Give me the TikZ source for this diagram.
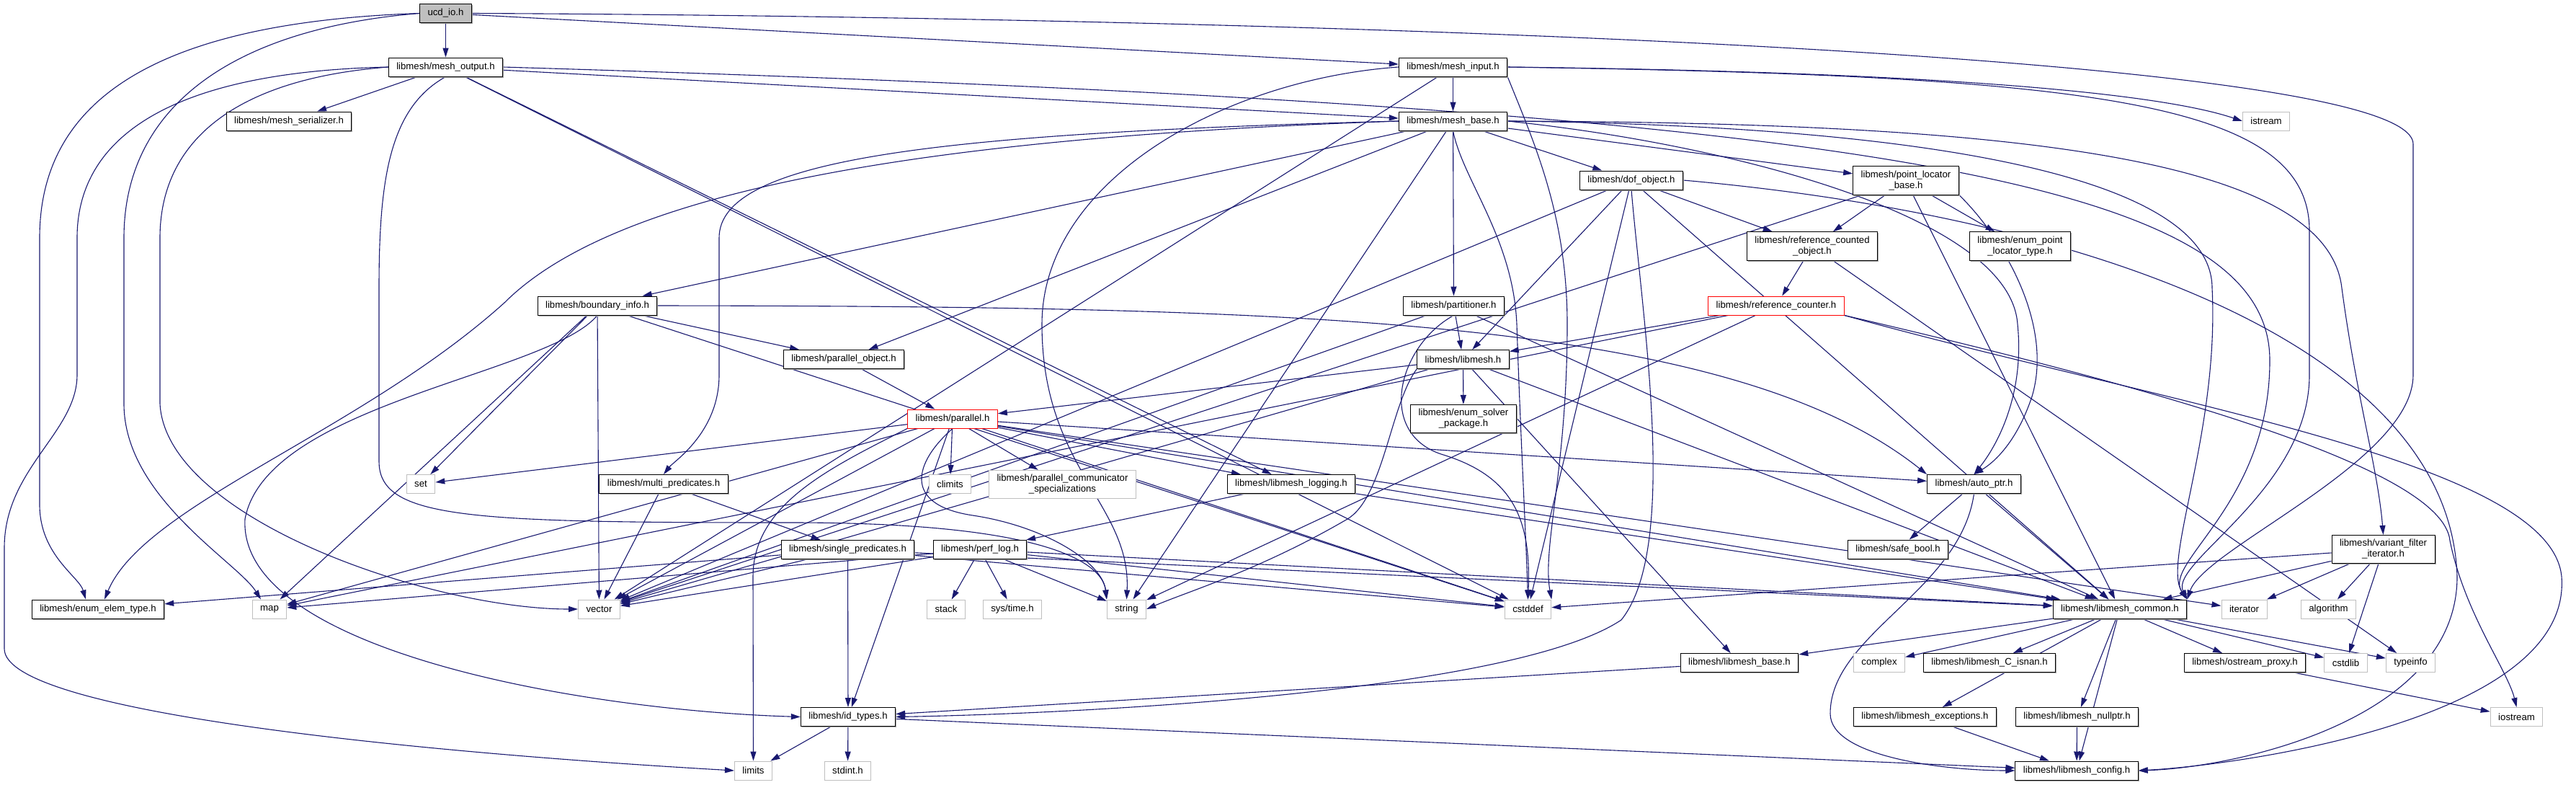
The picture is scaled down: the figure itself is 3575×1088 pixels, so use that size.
\documentclass[tikz,border=0pt]{standalone}
\usepackage{fontspec}
\setmainfont{Liberation Sans}
\usepackage{tikz}
\usetikzlibrary{arrows.meta,shadows}
\definecolor{edgeblue}{HTML}{191970}
\definecolor{sysgray}{HTML}{BFBFBF}
\definecolor{rootgray}{HTML}{BFBFBF}
\pgfdeclarelayer{wires}
\pgfsetlayers{wires,main}

\begin{document}
\begin{tikzpicture}[x=1pt,y=-1pt,
  hbox/.style={fill=white,font=\fontsize{13.2}{15}\selectfont,inner xsep=11pt,inner ysep=6pt,
    minimum height=26pt,align=center,line width=1pt},
  doc/.style={hbox,draw=black,drop shadow={shadow xshift=1.5pt,shadow yshift=-1.5pt,fill=gray!70,opacity=1}},
  sys/.style={hbox,draw=sysgray},
  trunc/.style={hbox,draw=red},
  root/.style={doc,fill=rootgray},
  dep/.style={draw=edgeblue,line width=1.1pt,-{Triangle[length=13pt,width=8pt]}},
  every edge/.style={dep}]
  \useasboundingbox (0,0) rectangle (3575,1088);

  % rows from top to bottom
  \node[root] (ucd) at (618.5,18.5) {ucd\_io.h};
  \node[doc] (output) at (618.5,93) {libmesh/mesh\_output.h};
  \node[doc] (input) at (2016.5,93) {libmesh/mesh\_input.h};
  \node[doc] (serializer) at (401,168) {libmesh/mesh\_serializer.h};
  \node[doc] (base) at (2016.5,168) {libmesh/mesh\_base.h};
  \node[sys] (istreamA) at (3145,168) {istream};
  \node[doc] (dof) at (2264,250) {libmesh/dof\_object.h};
  \node[doc] (plb) at (2645,250.5) {libmesh/point\_locator\\\_base.h};
  \node[doc] (rco) at (2515,341.5) {libmesh/reference\_counted\\\_object.h};
  \node[doc] (eplt) at (2803.5,341.5) {libmesh/enum\_point\\\_locator\_type.h};
  \node[doc] (boundary) at (829,424) {libmesh/boundary\_info.h};
  \node[doc] (partitioner) at (2017.5,424) {libmesh/partitioner.h};
  \node[trunc] (refcounter) at (2465,424) {libmesh/reference\_counter.h};
  \node[doc] (parobj) at (1171,498.5) {libmesh/parallel\_object.h};
  \node[doc] (libmeshh) at (2030.5,498.5) {libmesh/libmesh.h};
  \node[trunc] (parallel) at (1322,581) {libmesh/parallel.h};
  \node[doc] (solver) at (2031,581) {libmesh/enum\_solver\\\_package.h};
  \node[sys] (set) at (584,671.5) {set};
  \node[doc] (multi) at (921,671.5) {libmesh/multi\_predicates.h};
  \node[sys] (climits) at (1318.5,671.5) {climits};
  \node[sys] (commspec) at (1474.5,672) {libmesh/parallel\_communicator\\\_specializations};
  \node[doc] (logging) at (1792,671.5) {libmesh/libmesh\_logging.h};
  \node[doc] (autoptr) at (2739.5,671.5) {libmesh/auto\_ptr.h};
  \node[doc] (single) at (1176.5,762.5) {libmesh/single\_predicates.h};
  \node[doc] (perflog) at (1360,762.5) {libmesh/perf\_log.h};
  \node[doc] (safebool) at (2634,762) {libmesh/safe\_bool.h};
  \node[doc] (variant) at (3307.5,762) {libmesh/variant\_filter\\\_iterator.h};
  \node[doc] (enumelem) at (136,845) {libmesh/enum\_elem\_type.h};
  \node[sys] (map) at (374,845) {map};
  \node[sys] (vector) at (831.5,845) {vector};
  \node[sys] (stack) at (1313,845) {stack};
  \node[sys] (systime) at (1405,845) {sys/time.h};
  \node[sys] (string) at (1563.5,845) {string};
  \node[sys] (cstddef) at (2120.5,845) {cstddef};
  \node[doc] (common) at (2942,845) {libmesh/libmesh\_common.h};
  \node[sys] (iterator) at (3114.5,845) {iterator};
  \node[sys] (algorithm) at (3231.5,845) {algorithm};
  \node[doc] (lmbase) at (2414,919.5) {libmesh/libmesh\_base.h};
  \node[sys] (complex) at (2608,919.5) {complex};
  \node[doc] (isnan) at (2761,919.5) {libmesh/libmesh\_C\_isnan.h};
  \node[doc] (ostream) at (3115.5,919.5) {libmesh/ostream\_proxy.h};
  \node[sys] (cstdlib) at (3255.5,919.5) {cstdlib};
  \node[sys] (typeinfo) at (3345.5,919.5) {typeinfo};
  \node[doc] (idtypes) at (1177,994.5) {libmesh/id\_types.h};
  \node[doc] (exceptions) at (2671.5,994.5) {libmesh/libmesh\_exceptions.h};
  \node[doc] (nullptr) at (2882.5,994.5) {libmesh/libmesh\_nullptr.h};
  \node[sys] (iostreamB) at (3492.5,994.5) {iostream};
  \node[sys] (limits) at (1045.5,1069) {limits};
  \node[sys] (stdint) at (1176.5,1069) {stdint.h};
  \node[doc] (config) at (2882,1069) {libmesh/libmesh\_config.h};

  \begin{pgfonlayer}{wires}
  \fill[white] (0,0) rectangle (3575,1088);
  % long routed includes
  \draw[dep] (ucd.west) .. controls (250,30) and (55,120) .. (55,330) -- (55,700)
    .. controls (55,770) and (110,800) .. ([xshift=-17pt]enumelem.north);
  \draw[dep] (ucd.west) .. controls (320,40) and (172,150) .. (172,330) -- (172,560)
    .. controls (172,690) and (330,780) .. ([xshift=-12pt]map.north);
  \draw[dep] (ucd.east) .. controls (1500,22) and (3349,60) .. (3349,200) -- (3349,520)
    .. controls (3349,640) and (3060,760) .. (common.north east);
  \draw[dep] (output.west) .. controls (220,100) and (107,200) .. (107,330) -- (107,520)
    .. controls (107,600) and (6,650) .. (6,760) -- (6,900)
    .. controls (6,990) and (600,1045) .. (limits.west);
  \draw[dep] (output.west) .. controls (320,110) and (222,200) .. (222,330) -- (222,560)
    .. controls (230,720) and (600,845) .. (vector.west);
  \draw[dep] (output.south) .. controls (540,150) and (526,250) .. (526,400) -- (526,640)
    .. controls (526,720) and (650,725) .. (1100,725) .. controls (1450,725) and (1530,780) .. (string.north west);
  \draw[dep] (output.east) .. controls (2600,150) and (3150,250) .. (3150,500)
    .. controls (3150,700) and (3000,780) .. (common.north east);
  \draw[dep] (input.east) .. controls (2700,100) and (3000,130) .. (istreamA.west);
  \draw[dep] (input.east) .. controls (2900,105) and (3205,140) .. (3205,320) -- (3205,520)
    .. controls (3205,680) and (3010,780) .. (common.north east);
  \draw[dep] (input.west) .. controls (1700,110) and (1446,250) .. (1446,450)
    .. controls (1446,650) and (1570,700) .. (string.north);
  \draw[dep] (input.south east) .. controls (2130,200) and (2175,300) .. (2175,450)
    .. controls (2175,650) and (2140,760) .. (cstddef.north east);
  \draw[dep] (base.south) .. controls (2030,250) and (2100,330) .. (2105,450)
    .. controls (2110,600) and (2118,750) .. (cstddef.north);
  \draw[dep] (base.west) .. controls (1300,190) and (860,260) .. (700,420)
    .. controls (500,600) and (200,700) .. ([xshift=9pt]enumelem.north);
  \draw[dep] (base.west) .. controls (1300,185) and (998,220) .. (998,330) -- (998,520)
    .. controls (998,600) and (935,640) .. (multi.north);
  \draw[dep] (base.east) .. controls (2700,175) and (3070,250) .. (3070,400)
    .. controls (3080,600) and (3000,780) .. (common.north east);
  \draw[dep] (base.east) .. controls (2800,170) and (3230,220) .. (3250,400)
    .. controls (3270,550) and (3300,650) .. (variant.north);
  \draw[dep] (base.east) .. controls (2400,200) and (2790,300) .. (2800,450)
    .. controls (2810,550) and (2770,620) .. (autoptr.north);
  \draw[dep] (plb.south east) .. controls (2780,330) and (2850,450) .. (2820,550)
    .. controls (2800,610) and (2770,640) .. (autoptr.north);
  \draw[dep] (dof.south) .. controls (2280,450) and (2330,760) .. (2250,860)
    .. controls (2100,960) and (1500,990) .. (idtypes.east);
  \draw[dep] (dof.east) .. controls (2900,300) and (3400,480) .. (3410,800)
    .. controls (3410,1000) and (3100,1065) .. (config.east);
  \draw[dep] (refcounter.south east) .. controls (3000,560) and (3540,640) .. (3555,800)
    .. controls (3570,1000) and (3100,1062) .. (config.east);
  \draw[dep] (refcounter.south east) .. controls (3000,540) and (3390,650) .. (3400,750)
    .. controls (3420,850) and (3480,930) .. (iostreamB.north);
  \draw[dep] (boundary.east) .. controls (1800,425) and (2400,440) .. (autoptr.north west);
  \draw[dep] (boundary.south) .. controls (760,520) and (370,560) .. (340,720)
    .. controls (330,900) and (800,985) .. (idtypes.west);
  \draw[dep] (partitioner.south) .. controls (1940,480) and (1910,600) .. (2000,630)
    .. controls (2100,660) and (2125,720) .. (cstddef.north);
  \draw[dep] (libmeshh.south west) .. controls (1930,560) and (1920,690) .. (1870,720)
    .. controls (1750,790) and (1650,820) .. (string.east);
  \draw[dep] (parallel.south) .. controls (1270,640) and (1250,700) .. (1350,715)
    .. controls (1450,730) and (1530,780) .. (string.north west);
  \draw[dep] (parallel.south west) .. controls (1150,650) and (1045,700) .. (1045,800) -- (limits.north);
  \draw[dep] (autoptr.south) .. controls (2720,820) and (2540,880) .. (2540,990)
    .. controls (2540,1050) and (2700,1069) .. (config.west);

  % short includes
  \path (ucd) edge (output) edge (input);
  \path (output) edge (serializer) edge (base) edge (logging) edge (cstddef);
  \path (input) edge (base) edge (vector);
  \path (base) edge (boundary) edge (dof) edge (plb) edge (partitioner) edge (parobj)
    edge (string);
  \path (dof) edge (rco) edge (libmeshh) edge (common) edge (cstddef) edge (vector);
  \path (plb) edge (rco) edge (eplt) edge (common) edge (vector);
  \path (rco) edge (refcounter) edge (typeinfo);
  \path (boundary) edge (parobj) edge (cstddef) edge (map) edge (vector) edge (set);
  \path (partitioner) edge (libmeshh) edge (vector) edge (common);
  \path (refcounter) edge (libmeshh) edge (map) edge (string);
  \path (parobj) edge (parallel);
  \path (libmeshh) edge (parallel) edge (vector) edge (solver) edge (lmbase) edge (common);
  \path (parallel) edge (set) edge (map) edge (vector) edge (idtypes) edge (climits)
    edge (commspec) edge (logging) edge (autoptr) edge (common) edge (cstddef) edge (iterator);
  \path (multi) edge (single) edge (vector);
  \path (logging) edge (perflog) edge (common);
  \path (autoptr) edge (safebool) edge (common);
  \path (single) edge (enumelem) edge (vector) edge (idtypes) edge (cstddef) edge (common);
  \path (perflog) edge (map) edge (vector) edge (stack) edge (systime) edge (string)
    edge (cstddef) edge (common);
  \path (variant) edge (cstddef) edge (common) edge (iterator) edge (algorithm) edge (cstdlib);
  \path (common) edge (lmbase) edge (complex) edge (isnan) edge (ostream) edge (cstdlib)
    edge (typeinfo) edge (exceptions) edge (nullptr) edge (config);
  \path (lmbase) edge (idtypes);
  \path (ostream) edge (iostreamB);
  \path (exceptions) edge (config);
  \path (nullptr) edge (config);
  \path (idtypes) edge (limits) edge (stdint) edge (config);
  \end{pgfonlayer}
\end{tikzpicture}
\end{document}
